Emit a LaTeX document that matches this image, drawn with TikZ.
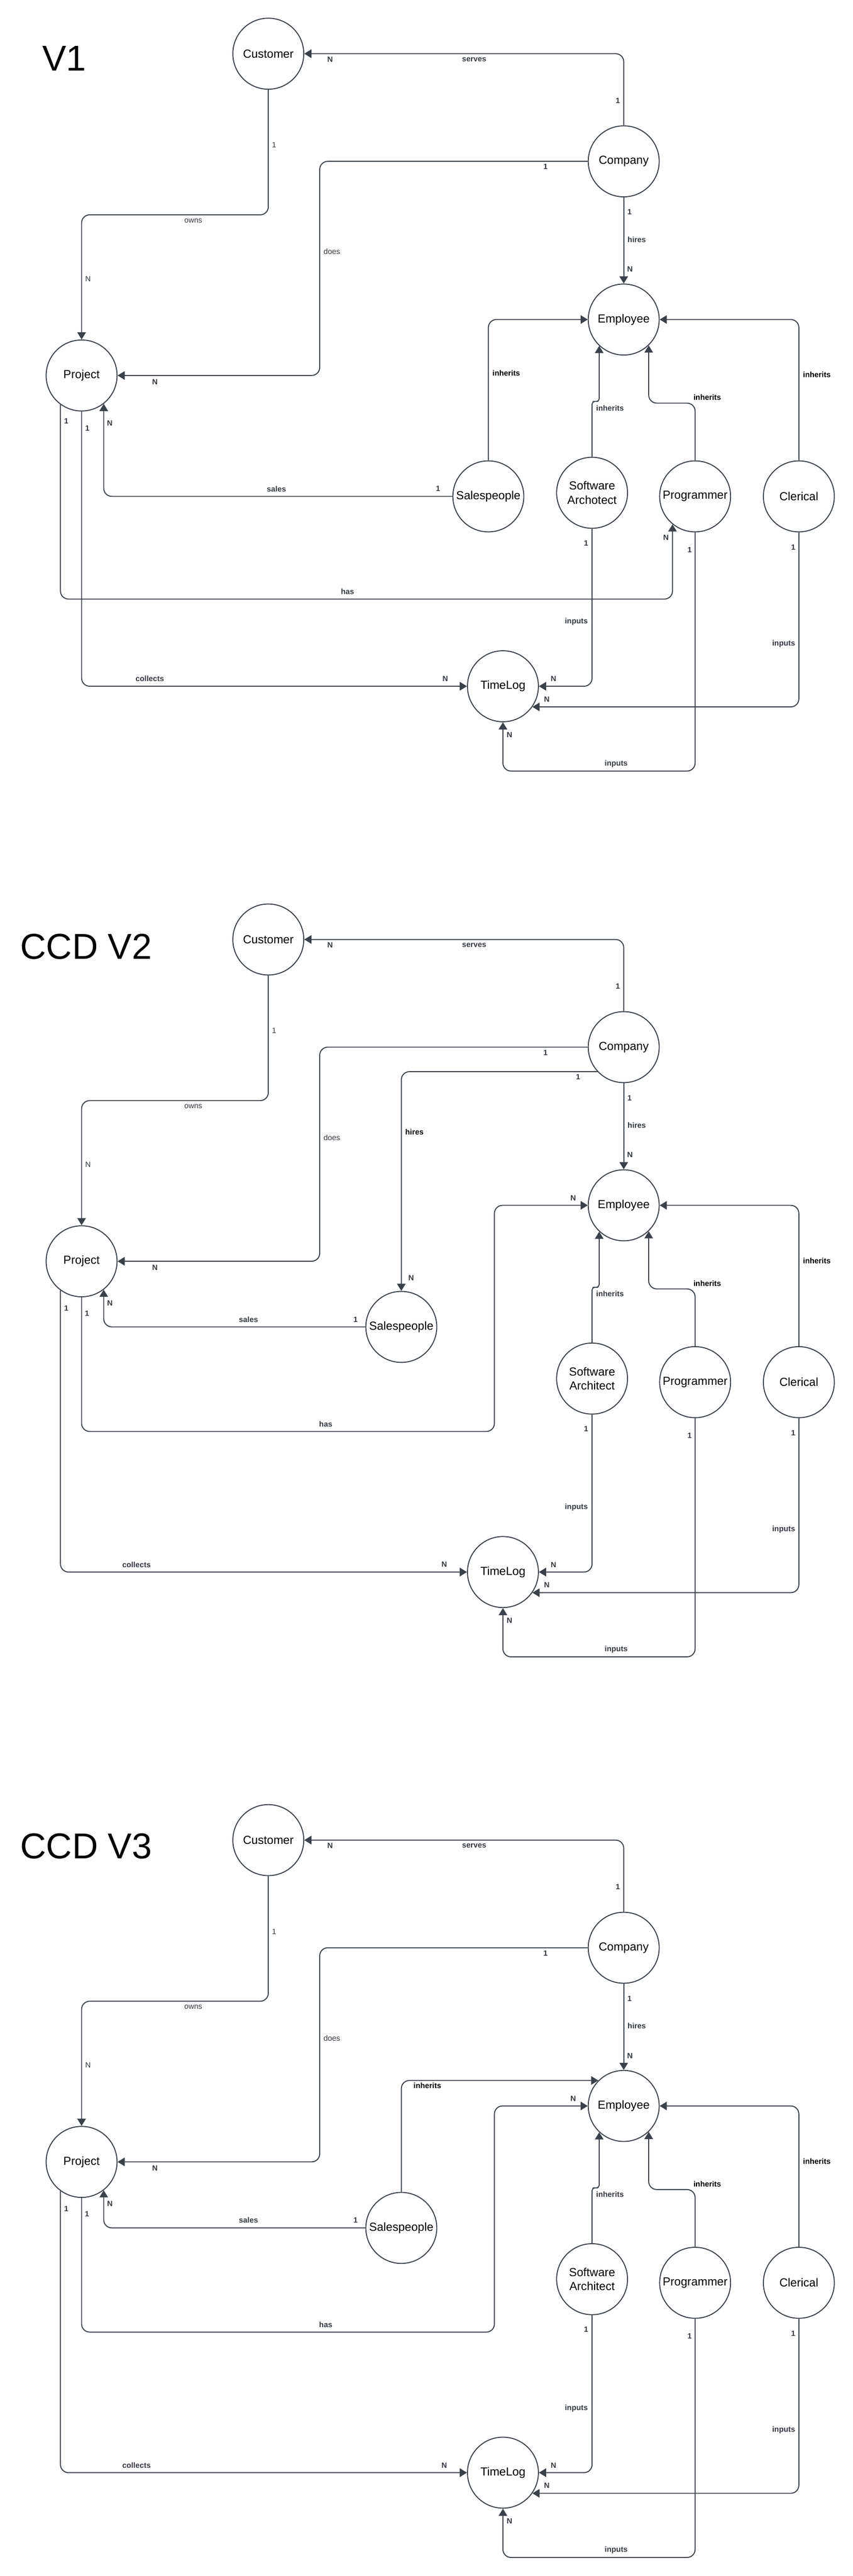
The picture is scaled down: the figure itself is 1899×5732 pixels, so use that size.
\documentclass[tikz,border=0pt]{standalone}
\usepackage{fontspec}
\setmainfont{Liberation Sans}
\usetikzlibrary{arrows.meta}
\definecolor{ln}{HTML}{3A414A}
\definecolor{lg}{HTML}{333840}
\tikzset{
  ent/.style={circle, draw=ln, line width=2.2pt, minimum size=158pt, inner sep=0pt, fill=white,
    align=center, font=\fontsize{26}{31.7}\selectfont, text=black},
  conn/.style={draw=ln, line width=2.2pt, rounded corners=18pt, -{Triangle[length=16pt,width=19pt]}},
  lab/.style={inner sep=0pt, font=\fontsize{17}{20}\selectfont\bfseries, text=lg},
  labk/.style={lab, text=black},
  labr/.style={inner sep=0pt, font=\fontsize{17}{20}\selectfont, text=lg},
  ttl/.style={inner sep=0pt, anchor=base west, font=\fontsize{80}{90}\selectfont, text=black}
}
\newcommand{\ERshared}[2]{%
  \node[ent] (#1cust) at (597.5,119.5) {Customer};
  \node[ent] (#1comp) at (1389,359) {Company};
  \node[ent] (#1emp) at (1389,711) {Employee};
  \node[ent] (#1proj) at (181.7,835.5) {Project};
  \node[ent] (#1sa) at (1318.5,1096.5) {#2};
  \node[ent] (#1prog) at (1548,1104.5) {Programmer};
  \node[ent] (#1cler) at (1779,1104.5) {Clerical};
  \node[ent] (#1tl) at (1120,1527) {TimeLog};
  \draw[conn] (#1comp.north) |- (#1cust.east);
  \draw[conn] (#1comp.west) -| (712,600) |- (#1proj.east);
  \draw[conn] (#1cust.south) |- (400,478) -| (#1proj.north);
  \draw[conn] (#1comp.south) -- (#1emp.north);
  \draw[conn, rounded corners=6pt] (#1sa.north) |- (1326,893.3) -| (#1emp.227);
  \draw[conn] (#1prog.north) |- (1500,897) -| (#1emp.314);
  \draw[conn] (#1cler.north) |- (#1emp.east);
  \draw[conn] (#1sa.south) |- (#1tl.east);
  \draw[conn] (#1cler.south) |- (#1tl.325);
  \draw[conn] (#1prog.south) |- (1300,1715.7) -| (#1tl.south);
  \node[lab] (#1la) at (735,132) {N};
  \node[lab] (#1lb) at (1056,132) {serves};
  \node[lab] (#1lc) at (1376,224) {1};
  \node[lab] (#1ld) at (1215,371) {1};
  \node[labr] (#1le) at (739,560) {does};
  \node[lab] (#1lf) at (345,849.5) {N};
  \node[labr] (#1lg) at (610.5,322.7) {1};
  \node[labr] (#1lh) at (430.4,491) {owns};
  \node[labr] (#1li) at (196,620.7) {N};
  \node[lab] (#1lj) at (1402,472) {1};
  \node[lab] (#1lk) at (1418,533) {hires};
  \node[lab] (#1ll) at (1403,599) {N};
  \node[lab] (#1lm) at (1358.5,908) {inherits};
  \node[labk] (#1ln) at (1575,884.3) {inherits};
  \node[labk] (#1lo) at (1819,834) {inherits};
  \node[lab] (#1lp) at (1305.3,1208.7) {1};
  \node[lab] (#1lq) at (1283.5,1383.5) {inputs};
  \node[lab] (#1lr) at (1232.6,1510.6) {N};
  \node[lab] (#1ls) at (1766.6,1217.6) {1};
  \node[lab] (#1lt) at (1745.2,1432.6) {inputs};
  \node[lab] (#1lu) at (1217.8,1555.6) {N};
  \node[lab] (#1lv) at (1535.8,1223.6) {1};
  \node[lab] (#1lw) at (1372.2,1699.4) {inputs};
  \node[lab] (#1lx) at (1134.7,1635.2) {N};
}
\newcommand{\ERlower}[1]{%
  \draw[conn] (#1proj.south) |- (600,1214.2) -| (1101,900) |- (#1emp.west);
  \draw[conn] (#1sp.west) -| (#1proj.308);
  \draw[conn] (#1proj.234) |- (#1tl.west);
  \node[lab] (#1m1) at (193.8,951.4) {1};
  \node[lab] (#1m2) at (725.4,1198.2) {has};
  \node[lab] (#1m3) at (1276.6,694.8) {N};
  \node[lab] (#1m4) at (792,965) {1};
  \node[lab] (#1m5) at (553.4,965) {sales};
  \node[lab] (#1m6) at (244.6,928.4) {N};
  \node[lab] (#1m7) at (147.7,940) {1};
  \node[lab] (#1m8) at (304,1510.4) {collects};
  \node[lab] (#1m9) at (989.4,1510.4) {N};
}
\begin{document}
\begin{tikzpicture}[x=1pt, y=-1pt]
\fill[white] (0,0) rectangle (1899,5732);
\useasboundingbox (0,0) rectangle (1899,5732);
% ---------------- V1 ----------------
\begin{scope}
  \node[ttl] (ttla) at (94,158) {V1};
  \ERshared{a}{Software\\Archotect}
  \node[ent] (asp) at (1087.5,1104.5) {Salespeople};
  \draw[conn] (asp.north) |- (aemp.west);
  \draw[conn] (asp.west) -| (aproj.308);
  \draw[conn] (aproj.234) |- (800,1333) -| (aprog.231);
  \draw[conn] (aproj.south) |- (atl.west);
  \node[labk] (an1) at (1127.4,830) {inherits};
  \node[lab] (an2) at (975.5,1087.6) {1};
  \node[lab] (an3) at (615.6,1087.6) {sales};
  \node[lab] (an4) at (244.5,941.6) {N};
  \node[lab] (an5) at (147.7,936.7) {1};
  \node[lab] (an6) at (774,1316) {has};
  \node[lab] (an7) at (1483,1196.3) {N};
  \node[lab] (an8) at (194.7,952.8) {1};
  \node[lab] (an9) at (333.6,1510.4) {collects};
  \node[lab] (an10) at (991.6,1510.4) {N};
\end{scope}
% ---------------- CCD V2 ----------------
\begin{scope}[yshift=-1971pt]
  \node[ttl] (ttlb) at (45,162.7) {CCD V2};
  \ERshared{b}{Software\\Architect}
  \node[ent] (bsp) at (893.7,981.5) {Salespeople};
  \draw[conn] (bcomp.223) -| (bsp.north);
  \ERlower{b}
  \node[lab] (bn1) at (1287.4,425.6) {1};
  \node[labk] (bn2) at (923,547.4) {hires};
  \node[lab] (bn3) at (915.6,872.5) {N};
\end{scope}
% ---------------- CCD V3 ----------------
\begin{scope}[yshift=-3975pt]
  \node[ttl] (ttlc) at (45,160.2) {CCD V3};
  \ERshared{c}{Software\\Architect}
  \node[ent] (csp) at (893.7,982.4) {Salespeople};
  \draw[conn] (csp.north) |- (cemp.135);
  \ERlower{c}
  \node[labk] (cn1) at (951.8,666) {inherits};
\end{scope}
\end{tikzpicture}
\end{document}
